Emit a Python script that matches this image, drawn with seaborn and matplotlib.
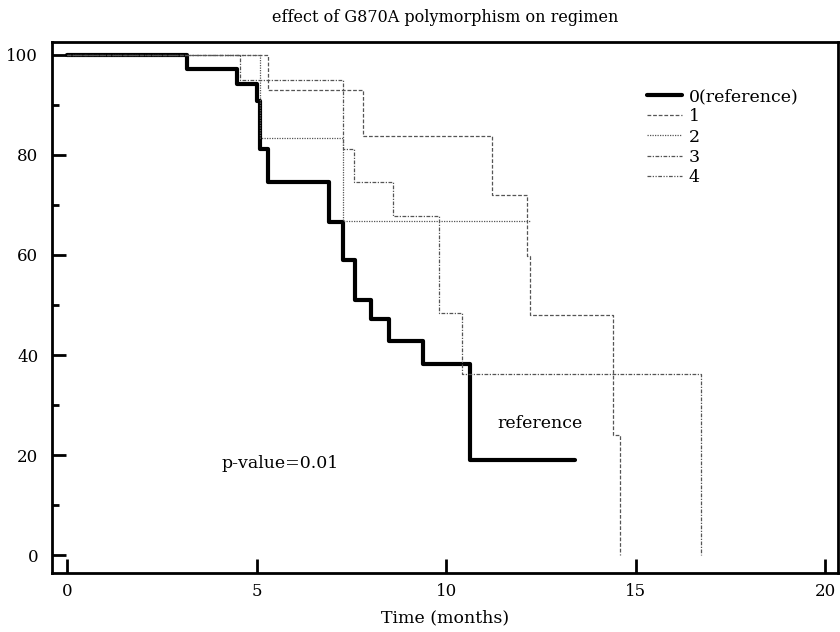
import matplotlib
matplotlib.use("Agg")
import matplotlib.pyplot as plt
import seaborn as sns

# Kaplan-Meier style step curves (time in months, survival %)
ref_time = [0, 3.17, 4.49, 5.02, 5.09, 5.31, 6.90, 7.27, 7.60, 8.01, 8.50, 9.39, 10.63, 13.4]
ref_surv = [100, 97.1, 94.2, 90.8, 81.2, 74.6, 66.6, 58.9, 51.0, 47.1, 42.8, 38.2, 19.1, 19.1]

g1_time = [0, 5.30, 7.80, 11.22, 12.13, 12.20, 14.40, 14.60]
g1_surv = [100, 92.9, 83.7, 71.9, 59.7, 47.9, 24.0, 0]

g2_time = [0, 5.09, 7.29, 12.20]
g2_surv = [100, 83.3, 66.7, 66.7]

g3_time = [0, 4.57, 7.29, 7.57, 8.60, 9.81, 10.41, 16.72]
g3_surv = [100, 94.9, 81.1, 74.5, 67.8, 48.3, 36.2, 0]

# group 4 is not visible in the picture (hidden under the others), legend only
g4_time = []
g4_surv = []

labels = ["0(reference)", "1", "2", "3", "4"]
x_ticks = [0, 5, 10, 15, 20]
y_ticks = [0, 20, 40, 60, 80, 100]

sns.set_theme(style="ticks")
# the reference text is a wide serif face
plt.rcParams["font.family"] = ["DejaVu Serif", "Liberation Serif"]
plt.rcParams["font.size"] = 12
plt.rcParams["text.color"] = "black"
plt.rcParams["axes.labelcolor"] = "black"

fig = plt.figure(figsize=(8.4, 6.32), dpi=100)
ax = fig.add_axes([0.062, 0.093, 0.936, 0.841])

gray = "#555555"
curves = [
    (ref_time, ref_surv, labels[0], dict(color="black", linewidth=3.0, linestyle="-")),
    (g1_time, g1_surv, labels[1], dict(color=gray, linewidth=0.9, dashes=(3, 1.5))),
    (g2_time, g2_surv, labels[2], dict(color=gray, linewidth=0.9, dashes=(1, 1))),
    (g3_time, g3_surv, labels[3], dict(color=gray, linewidth=0.9, dashes=(3, 1.2, 1, 1.2))),
]
for t, s, lab, kw in curves:
    sns.lineplot(x=t, y=s, ax=ax, drawstyle="steps-post", estimator=None,
                 sort=False, label=lab, **kw)
# legend entry for group 4
ax.plot(g4_time, g4_surv, color=gray, linewidth=0.9,
        dashes=(3, 1.2, 1, 1.2, 1, 1.2), label=labels[4])

ax.set_xlim(-0.4, 20.35)
ax.set_ylim(-3.6, 102.6)
ax.set_xticks(x_ticks)
ax.set_yticks(y_ticks)
ax.set_yticks([10, 30, 50, 70, 90], minor=True)
ax.tick_params(axis="both", which="major", direction="in", length=10, width=2,
               labelsize=12, colors="black", labelcolor="black")
ax.tick_params(axis="y", which="major", pad=10)
ax.tick_params(axis="x", which="major", pad=7)
ax.tick_params(axis="y", which="minor", direction="in", length=5, width=2,
               colors="black")
for sp in ax.spines.values():
    sp.set_linewidth(2)
    sp.set_color("black")

ax.set_title("effect of G870A polymorphism on regimen", fontsize=11.5, pad=14,
             color="black")
ax.set_xlabel("Time (months)", fontsize=12.5, labelpad=7)
ax.set_ylabel("")

ax.text(4.06, 18.4, "p-value=0.01", fontsize=12.5, va="center", ha="left")
ax.text(11.35, 26.4, "reference", fontsize=12.5, va="center", ha="left")

leg = ax.legend(loc="upper left", bbox_to_anchor=(0.757, 0.913), frameon=False,
                borderaxespad=0, borderpad=0, fontsize=12.5, handlelength=2.0,
                labelspacing=0.19, handletextpad=0.4)
for txt in leg.get_texts():
    txt.set_color("black")

fig.savefig("out.png", dpi=100)
